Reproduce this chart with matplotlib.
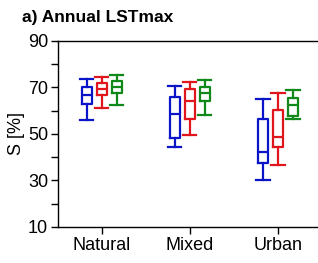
import matplotlib
matplotlib.use('Agg')
from matplotlib import pyplot as plt

plt.rcParams['font.family'] = ['Liberation Sans', 'DejaVu Sans']

# ----- DATA ------- #
categories = ['Natural', 'Mixed', 'Urban']
colors = ['#0a14c8', '#e0161c', '#11881a']

# whisker low, box low, median, box high, whisker high  [%]
blue = [[55.9, 62.8, 66.6, 70.2, 73.4],
        [44.4, 48.3, 58.5, 65.9, 70.5],
        [30.1, 37.3, 42.0, 56.3, 64.8]]
red = [[60.9, 66.6, 69.1, 71.9, 74.5],
       [49.4, 56.2, 64.1, 69.1, 72.4],
       [36.5, 44.4, 48.7, 60.2, 67.6]]
green = [[62.6, 67.4, 70.2, 72.8, 75.2],
         [58.0, 64.2, 67.4, 70.2, 73.1],
         [56.3, 57.6, 62.6, 65.6, 68.8]]
series = [blue, red, green]
offsets = [-0.17, 0.0, 0.17]

fig = plt.figure(figsize=(3.18, 2.63), dpi=100)
ax = fig.add_axes([0.1815, 0.1369, 0.831, 0.7083])

for s, col, off in zip(series, colors, offsets):
    stats = []
    for v in s:
        stats.append({'whislo': v[0], 'q1': v[1], 'med': v[2], 'q3': v[3], 'whishi': v[4]})
    pos = [i + off for i in range(len(categories))]
    lp = dict(color=col, linewidth=1.6)
    ax.bxp(stats, positions=pos, widths=0.11, showfliers=False,
           boxprops=lp, medianprops=lp, whiskerprops=lp, capprops=lp,
           capwidths=0.15, manage_ticks=False)

ax.set_xlim(-0.5, 2.5)
ax.set_ylim(10, 90)
ax.set_xticks(range(len(categories)))
ax.set_xticklabels(categories)
ax.set_yticks([10, 30, 50, 70, 90])
ax.set_yticks([20, 40, 60, 80], minor=True)
ax.tick_params(axis='both', which='both', direction='out', length=5, width=1, labelsize=13, pad=2)
ax.set_ylabel('S [%]', fontsize=13, labelpad=2)
for sp in ax.spines.values():
    sp.set_linewidth(1)

fig.text(0.069, 0.933, 'a) Annual LSTmax', fontsize=12.5, fontweight='bold', va='center')

plt.savefig('out.png', dpi=100)
